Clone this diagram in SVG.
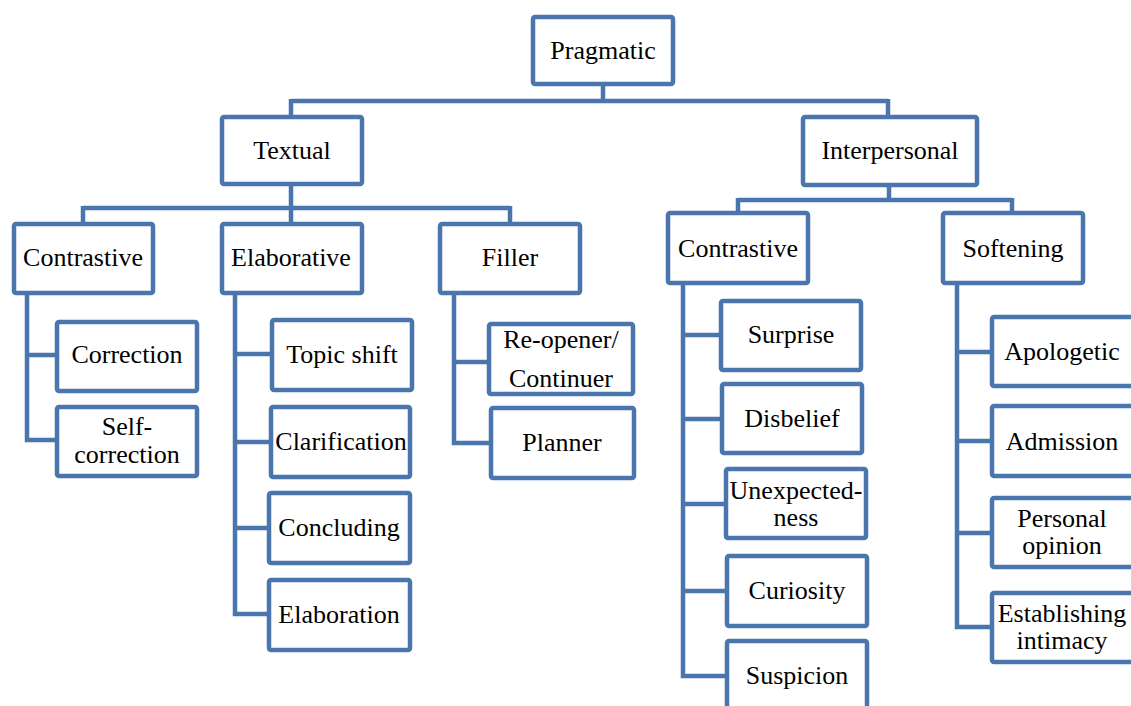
<svg xmlns="http://www.w3.org/2000/svg" width="1131" height="706" viewBox="0 0 1131 706">
<style>
.b{fill:#fff;stroke:#4A76AD;stroke-width:4.5}
.c{fill:none;stroke:#4A76AD;stroke-width:4.5;stroke-linejoin:miter}
text{font-size:26px;fill:#000;text-anchor:middle}
</style>
<rect width="1131" height="706" fill="#fff"/>
<g id="connectors">
<path class="c" d="M603 84V101M291 101H888M291 99V117M888 99V117"/>
<path class="c" d="M291 184V208M83 208H510M83 206V224M510 206V224M291 206V224"/>
<path class="c" d="M889 185V200M738 200H1012M738 198V213M1012 198V213"/>
<path class="c" d="M27 293V440H57M27 355H57"/>
<path class="c" d="M235 293V614H269M235 354H272M235 442H271M235 528H269"/>
<path class="c" d="M454 293V443H491M454 362H489"/>
<path class="c" d="M683 283V676H727M683 335H721M683 419H722M683 504H726M683 591H727"/>
<path class="c" d="M957 283V627H992M957 352H992M957 441H992M957 533H992"/>
</g>
<g font-family="'Liberation Serif', 'Times New Roman', Tinos, 'Nimbus Roman', 'DejaVu Serif', serif">
<g id="n-pragmatic"><rect class="b" x="533" y="17" width="140" height="67" rx="2"/><text x="603" y="59">Pragmatic</text></g>
<g id="n-textual"><rect class="b" x="222" y="117" width="140" height="67" rx="2"/><text x="292" y="159">Textual</text></g>
<g id="n-interpersonal"><rect class="b" x="803" y="117" width="174" height="68" rx="2"/><text x="890" y="159">Interpersonal</text></g>
<g id="n-contrastive-t"><rect class="b" x="14" y="224" width="139" height="69" rx="2"/><text x="83" y="266">Contrastive</text></g>
<g id="n-elaborative"><rect class="b" x="222" y="224" width="140" height="69" rx="2"/><text x="291" y="266">Elaborative</text></g>
<g id="n-filler"><rect class="b" x="440" y="224" width="140" height="69" rx="2"/><text x="510" y="266">Filler</text></g>
<g id="n-correction"><rect class="b" x="57" y="322" width="140" height="69" rx="2"/><text x="127" y="363">Correction</text></g>
<g id="n-selfcorrection"><rect class="b" x="57" y="407" width="140" height="69" rx="2"/><text x="127" y="435">Self-</text><text x="127" y="463">correction</text></g>
<g id="n-topicshift"><rect class="b" x="272" y="320" width="140" height="70" rx="2"/><text x="342" y="363">Topic shift</text></g>
<g id="n-clarification"><rect class="b" x="271" y="407" width="139" height="70" rx="2"/><text x="341" y="450">Clarification</text></g>
<g id="n-concluding"><rect class="b" x="269" y="493" width="141" height="70" rx="2"/><text x="339" y="536">Concluding</text></g>
<g id="n-elaboration"><rect class="b" x="269" y="580" width="141" height="70" rx="2"/><text x="339" y="623">Elaboration</text></g>
<g id="n-reopener"><rect class="b" x="489" y="324" width="144" height="70" rx="2"/><text x="561" y="348">Re-opener/</text><text x="561" y="387">Continuer</text></g>
<g id="n-planner"><rect class="b" x="491" y="408" width="143" height="70" rx="2"/><text x="562" y="451">Planner</text></g>
<g id="n-contrastive-i"><rect class="b" x="668" y="213" width="140" height="70" rx="2"/><text x="738" y="257">Contrastive</text></g>
<g id="n-softening"><rect class="b" x="943" y="213" width="140" height="70" rx="2"/><text x="1013" y="257">Softening</text></g>
<g id="n-surprise"><rect class="b" x="721" y="301" width="140" height="69" rx="2"/><text x="791" y="343">Surprise</text></g>
<g id="n-disbelief"><rect class="b" x="722" y="384" width="140" height="69" rx="2"/><text x="792" y="427">Disbelief</text></g>
<g id="n-unexpectedness"><rect class="b" x="726" y="469" width="140" height="69" rx="2"/><text x="796" y="499">Unexpected-</text><text x="796" y="526">ness</text></g>
<g id="n-curiosity"><rect class="b" x="727" y="556" width="140" height="70" rx="2"/><text x="797" y="599">Curiosity</text></g>
<g id="n-suspicion"><rect class="b" x="727" y="641" width="140" height="70" rx="2"/><text x="797" y="684">Suspicion</text></g>
<g id="n-apologetic"><rect class="b" x="992" y="317" width="142" height="69" rx="2"/><text x="1062" y="360">Apologetic</text></g>
<g id="n-admission"><rect class="b" x="992" y="406" width="142" height="70" rx="2"/><text x="1062" y="450">Admission</text></g>
<g id="n-personal"><rect class="b" x="992" y="498" width="142" height="69" rx="2"/><text x="1062" y="527">Personal</text><text x="1062" y="554">opinion</text></g>
<g id="n-intimacy"><rect class="b" x="992" y="593" width="142" height="69" rx="2"/><text x="1062" y="622">Establishing</text><text x="1062" y="649">intimacy</text></g>
</g>
</svg>
